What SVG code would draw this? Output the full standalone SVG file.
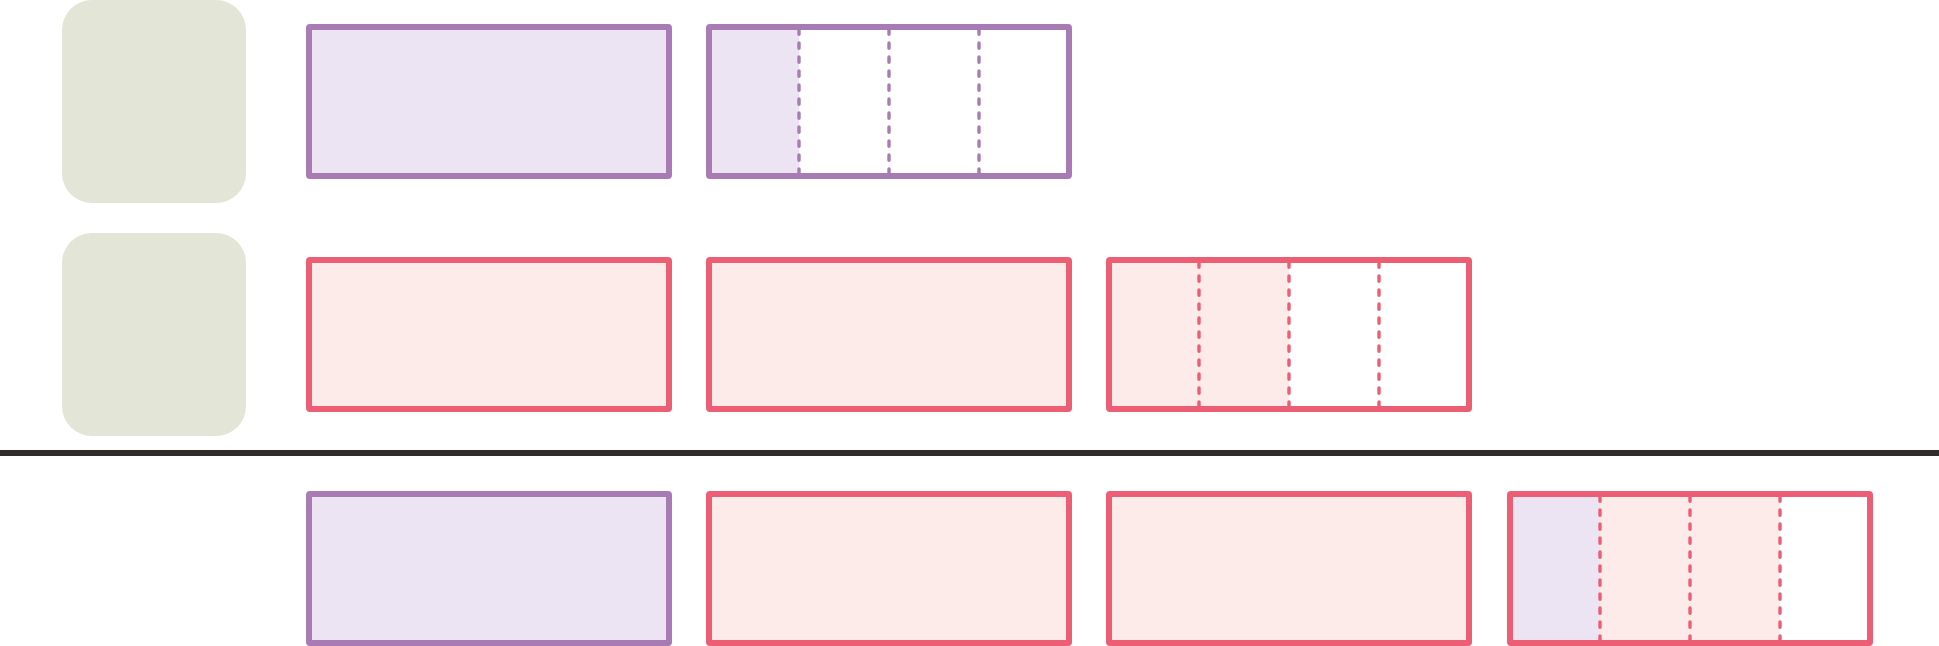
<svg xmlns="http://www.w3.org/2000/svg" width="1939" height="646" viewBox="0 0 1939 646">
  <style>
    .bg { fill: #ffffff; }
    .label { fill: #e3e5d7; }
    .pbox { stroke: #a97bb5; stroke-width: 6; stroke-linejoin: round; }
    .rbox { stroke: #eb5e73; stroke-width: 6; stroke-linejoin: round; }
    .pfill { fill: #ece4f2; }
    .rfill { fill: #fdebea; }
    .wfill { fill: #ffffff; }
    .none { fill: none; }
    .pdash { stroke: #a97bb5; stroke-width: 3.4; stroke-dasharray: 5.2 8.8; stroke-dashoffset: 0; stroke-linecap: round; fill: none; }
    .rdash { stroke: #eb5e73; stroke-width: 3.4; stroke-dasharray: 5.2 8.8; stroke-dashoffset: 0; stroke-linecap: round; fill: none; }
    .sep { stroke: #312b29; stroke-width: 6; }
  </style>
  <rect class="bg" x="0" y="0" width="1939" height="646"/>

  <g id="label-row1">
    <rect class="label" x="62" y="0" width="184" height="203" rx="30" ry="30"/>
  </g>
  <g id="label-row2">
    <rect class="label" x="62" y="233" width="184" height="203" rx="30" ry="30"/>
  </g>

  <!-- Row 1 -->
  <g id="r1-b1">
    <rect class="pbox pfill" x="309" y="27" width="360" height="149" rx="1"/>
  </g>
  <g id="r1-b2">
    <rect class="wfill" x="709" y="27" width="360" height="149"/>
    <rect class="pfill" x="709" y="27" width="90" height="149"/>
    <line class="pdash" x1="799" y1="29" x2="799" y2="175"/>
    <line class="pdash" x1="889" y1="29" x2="889" y2="175"/>
    <line class="pdash" x1="979" y1="29" x2="979" y2="175"/>
    <rect class="pbox none" x="709" y="27" width="360" height="149" rx="1"/>
  </g>

  <!-- Row 2 -->
  <g id="r2-b1">
    <rect class="rbox rfill" x="309" y="260" width="360" height="149" rx="1"/>
  </g>
  <g id="r2-b2">
    <rect class="rbox rfill" x="709" y="260" width="360" height="149" rx="1"/>
  </g>
  <g id="r2-b3">
    <rect class="wfill" x="1109" y="260" width="360" height="149"/>
    <rect class="rfill" x="1109" y="260" width="180" height="149"/>
    <line class="rdash" x1="1199" y1="262" x2="1199" y2="408"/>
    <line class="rdash" x1="1289" y1="262" x2="1289" y2="408"/>
    <line class="rdash" x1="1379" y1="262" x2="1379" y2="408"/>
    <rect class="rbox none" x="1109" y="260" width="360" height="149" rx="1"/>
  </g>

  <g id="separator">
    <line class="sep" x1="0" y1="453" x2="1939" y2="453"/>
  </g>

  <!-- Row 3 -->
  <g id="r3-b1">
    <rect class="pbox pfill" x="309" y="494" width="360" height="149" rx="1"/>
  </g>
  <g id="r3-b2">
    <rect class="rbox rfill" x="709" y="494" width="360" height="149" rx="1"/>
  </g>
  <g id="r3-b3">
    <rect class="rbox rfill" x="1109" y="494" width="360" height="149" rx="1"/>
  </g>
  <g id="r3-b4">
    <rect class="wfill" x="1510" y="494" width="360" height="149"/>
    <rect class="pfill" x="1510" y="494" width="90" height="149"/>
    <rect class="rfill" x="1600" y="494" width="180" height="149"/>
    <line class="rdash" x1="1600" y1="496" x2="1600" y2="642"/>
    <line class="rdash" x1="1690" y1="496" x2="1690" y2="642"/>
    <line class="rdash" x1="1780" y1="496" x2="1780" y2="642"/>
    <rect class="rbox none" x="1510" y="494" width="360" height="149" rx="1"/>
  </g>

  <g id="connectors"></g>
</svg>
